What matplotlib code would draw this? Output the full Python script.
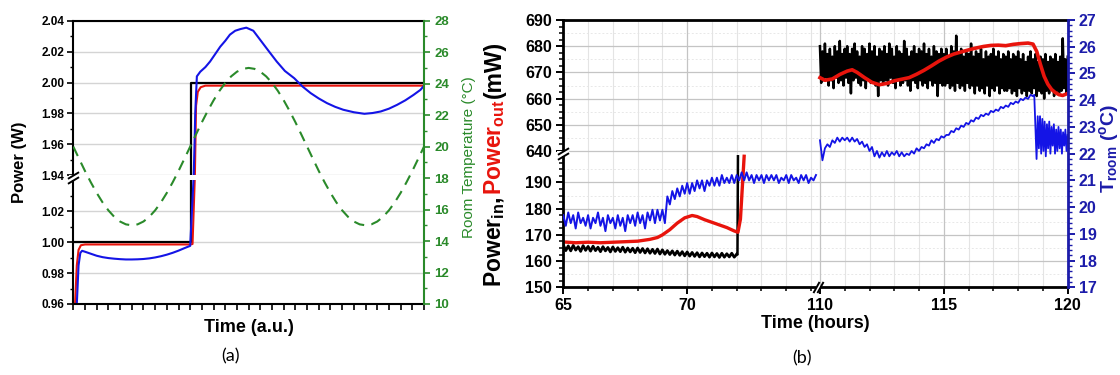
import numpy as np
import matplotlib
matplotlib.use('Agg')
import matplotlib.pyplot as plt
from matplotlib.patches import Rectangle
from matplotlib.lines import Line2D

plt.rcParams['font.family'] = ['Liberation Sans', 'DejaVu Sans']
plt.rcParams['mathtext.fontset'] = 'custom'
plt.rcParams['mathtext.rm'] = 'Liberation Sans'
plt.rcParams['mathtext.bf'] = 'Liberation Sans:bold'
plt.rcParams['mathtext.it'] = 'Liberation Sans:italic'

# ---------------- panel (a) data ----------------
step_t = [0, 10.03, 10.03, 30]
step_p = [1.00, 1.00, 2.00, 2.00]

out_t = [0.15, 0.3, 0.45, 0.65, 1.0, 10.0, 10.2, 10.4, 10.5, 10.65, 10.9, 11.3, 30]
out_p = [0.96, 0.985, 0.995, 0.998, 0.9985, 0.9985, 0.9988, 1.94, 1.985, 1.994, 1.997, 1.998, 1.998]

sim_t = [0.3, 0.45, 0.6, 0.75, 1.0, 1.5, 2, 2.5, 3, 3.5, 4, 4.5, 5, 5.5, 6, 6.5, 7, 7.5, 8, 8.5, 9, 9.5, 10.0,
         10.3, 10.37, 10.43, 10.57, 10.86, 11.3, 11.7, 12.1, 12.57, 13.0, 13.4, 13.85, 14.3, 14.8, 15.4, 16.0,
         16.7, 17.4, 18.1, 18.9, 19.6, 20.3, 21.0, 21.7, 22.4, 23.1, 24.0, 24.9, 25.6, 26.3, 27.0, 27.7, 28.4,
         29.1, 29.7, 30.0]
sim_p = [0.96, 0.985, 0.993, 0.9944, 0.9938, 0.9925, 0.9912, 0.9903, 0.9897, 0.9893, 0.9890, 0.9888, 0.9888,
         0.9889, 0.9891, 0.9895, 0.9901, 0.9909, 0.9919, 0.9931, 0.9945, 0.9961, 0.9976,
         1.94, 1.96, 1.98, 2.004, 2.007, 2.010, 2.0136, 2.018, 2.0232, 2.027, 2.031, 2.0335, 2.0346, 2.0355,
         2.0335, 2.0275, 2.0205, 2.0136, 2.0075, 2.0028, 1.9975, 1.9932, 1.9897, 1.9867, 1.9843, 1.9824,
         1.9808, 1.9798, 1.9803, 1.9813, 1.9831, 1.9856, 1.9885, 1.992, 1.9953, 1.998]

# room temperature, every half time unit from 0 to 30
room_temp = [20.00, 19.22, 18.45, 17.73, 17.06, 16.46, 15.95, 15.54, 15.24, 15.06, 15.00, 15.06, 15.24, 15.54,
             15.95, 16.46, 17.06, 17.73, 18.45, 19.22, 20.00, 20.78, 21.55, 22.27, 22.94, 23.54, 24.05, 24.46,
             24.76, 24.94, 25.00, 24.94, 24.76, 24.46, 24.05, 23.54, 22.94, 22.27, 21.55, 20.78, 20.00, 19.22,
             18.45, 17.73, 17.06, 16.46, 15.95, 15.54, 15.24, 15.06, 15.00, 15.06, 15.24, 15.54, 15.95, 16.46,
             17.06, 17.73, 18.45, 19.22, 20.00]

a_yticks = [0.96, 0.98, 1.00, 1.02, 1.94, 1.96, 1.98, 2.00, 2.02, 2.04]
a_yminor = [0.97, 0.99, 1.01, 1.03, 1.95, 1.97, 1.99, 2.01, 2.03]
a_rticks = [10, 12, 14, 16, 18, 20, 22, 24, 26, 28]

# ---------------- panel (b) data ----------------
# Power_in 65 -> 72 h (every 0.1 h)
pin_b1 = [166.2, 164.0, 165.8, 163.9, 166.0, 164.2, 165.5, 163.7, 165.9, 164.1, 165.6, 163.8, 165.7, 164.0,
          165.3, 163.6, 165.5, 163.9, 165.2, 163.5, 165.4, 163.7, 165.1, 163.6, 165.3, 163.4, 165.0, 163.5,
          164.9, 163.2, 165.0, 163.3, 164.8, 163.1, 164.7, 163.0, 164.5, 162.9, 164.6, 162.7, 164.3, 162.6,
          164.0, 162.5, 163.9, 162.3, 163.8, 162.2, 163.6, 162.0, 163.5, 161.9, 163.3, 161.8, 163.2, 161.6,
          163.1, 161.7, 163.0, 161.5, 163.1, 161.6, 162.9, 161.4, 163.0, 161.5, 162.8, 161.6, 163.0, 161.5,
          162.6]
pin_jump_t = [72.0, 72.03, 72.05]
pin_jump_p = [162.6, 162.5, 200.0]

# Power_in 110 -> 120 h
pin_b2 = [680, 666, 678, 667, 681, 668, 677, 665, 679, 667, 676, 664, 680, 668, 678, 666, 682, 667, 677, 665,
          679, 668, 680, 666, 677, 662, 679, 667, 681, 668, 678, 666, 676, 665, 680, 667, 679, 664, 677, 668,
          681, 666, 678, 667, 680, 665, 676, 661, 679, 667,
          678, 666, 680, 667, 677, 665, 681, 668, 679, 666, 676, 664, 680, 667, 678, 665, 677, 666, 682, 667,
          679, 665, 676, 663, 678, 667, 680, 666, 677, 664, 679, 667, 678, 665, 681, 666, 677, 664, 679, 667,
          676, 665, 680, 666, 678, 661, 677, 666, 679, 665,
          677, 665, 679, 666, 676, 664, 680, 665, 678, 663, 684, 666, 677, 664, 679, 665, 676, 663, 678, 666,
          677, 664, 681, 665, 676, 662, 678, 665, 677, 663, 679, 664, 675, 662, 678, 665, 676, 661, 677, 664,
          679, 663, 676, 665, 678, 662, 675, 664, 677, 663,
          676, 663, 678, 664, 675, 662, 677, 663, 676, 661, 678, 664, 675, 662, 677, 663, 674, 661, 676, 663,
          678, 662, 675, 664, 677, 661, 674, 663, 676, 662, 675, 660, 677, 663, 674, 662, 676, 664, 675, 661,
          677, 663, 674, 662, 676, 663, 683, 664, 675, 662, 676]

# Power_out
pout_t1 = [65.0, 65.5, 66.0, 66.5, 67.0, 67.5, 68.0, 68.5, 68.8, 69.0, 69.3, 69.6, 69.9, 70.2, 70.4, 70.7,
           71.0, 71.3, 71.6, 71.9, 72.05, 72.15, 72.3]
pout_p1 = [167.3, 167.0, 167.2, 167.0, 167.2, 167.4, 167.6, 168.3, 169.0, 170.0, 172.0, 174.5, 176.5, 177.4,
           177.0, 175.8, 174.8, 173.8, 172.8, 171.5, 171.0, 176.0, 200.0]
pout_t2 = [110.0, 110.2, 110.5, 110.8, 111.1, 111.3, 111.5, 111.8, 112.1, 112.4, 112.7, 113.0, 113.3, 113.6,
           113.9, 114.2, 114.5, 114.8, 115.1, 115.4, 115.7, 116.0, 116.3, 116.6, 116.9, 117.2, 117.5, 117.8,
           118.1, 118.4, 118.6, 118.75, 118.9, 119.05, 119.2, 119.35, 119.5, 119.65, 119.8, 120.0]
pout_p2 = [668.0, 667.0, 667.5, 669.2, 670.5, 671.0, 670.0, 668.0, 666.2, 665.3, 665.8, 666.8, 667.4, 668.0,
           669.3, 670.8, 672.5, 674.3, 675.8, 677.0, 677.8, 678.6, 679.3, 679.9, 680.3, 680.4, 680.2, 680.7,
           681.0, 681.2, 680.8, 678.0, 673.0, 668.5, 665.5, 663.5, 662.3, 661.5, 661.2, 662.0]

# T_room 65 -> 75.2 h (every 0.1 h)
troom_b1 = [19.7, 19.3, 19.8, 19.4, 19.7, 19.2, 19.8, 19.4, 19.6, 19.3, 19.7, 19.2, 19.6, 19.4, 19.8, 19.3,
            19.6, 19.1, 19.7, 19.4, 19.6, 19.2, 19.7, 19.3, 19.6, 19.1, 19.7, 19.4, 19.7, 19.3, 19.8, 19.4,
            19.7, 19.2, 19.8, 19.5, 19.9, 19.4, 19.9, 19.5, 19.9, 19.4, 20.4, 20.1, 20.6, 20.3, 20.7, 20.4,
            20.8, 20.5, 20.9, 20.5, 20.9, 20.6, 21.0, 20.7, 21.0, 20.6, 21.0, 20.8, 21.1, 20.8, 21.1, 20.8,
            21.2, 20.9, 21.1, 20.9, 21.2, 20.9, 21.2, 21.0, 21.3, 21.0, 21.3, 21.0, 21.2, 20.9, 21.2, 21.0,
            21.2, 20.9, 21.2, 21.0, 21.2, 21.0, 21.2, 20.9, 21.1, 21.0, 21.2, 20.9, 21.2, 21.0, 21.1, 20.9,
            21.2, 21.0, 21.2, 20.9, 21.1, 21.0, 21.2]
# T_room 110 -> 118.6 h (every 0.1 h)
troom_b2 = [22.5, 21.75, 22.2, 22.35, 22.25, 22.5, 22.4, 22.6, 22.45, 22.6, 22.5, 22.6, 22.45, 22.6, 22.45,
            22.55, 22.35, 22.45, 22.25, 22.35, 22.1, 22.25, 21.9, 22.1, 21.85, 22.05, 21.9, 22.1, 21.9, 22.05,
            21.95, 22.1, 21.9, 22.05, 21.9, 22.0, 21.95, 22.1, 22.0, 22.2, 22.1, 22.25, 22.2, 22.35, 22.3,
            22.5, 22.4, 22.55, 22.5, 22.65, 22.6, 22.7, 22.7, 22.85, 22.8, 22.95, 22.9, 23.05, 23.0, 23.15,
            23.1, 23.25, 23.2, 23.35, 23.3, 23.45, 23.4, 23.5, 23.45, 23.6, 23.55, 23.65, 23.6, 23.75, 23.7,
            23.8, 23.75, 23.9, 23.85, 23.95, 23.9, 24.05, 24.0, 24.1, 24.05, 24.2, 24.15]
# T_room 118.65 -> 120 h, oscillating part
troom_b3 = [24.2, 23.0, 21.8, 23.4, 22.2, 23.4, 22.0, 23.3, 22.1, 23.2, 21.9, 23.1, 22.2, 23.2, 22.0, 23.0,
            22.3, 23.1, 22.0, 22.9, 22.1, 23.0, 22.2, 22.9, 22.0, 22.8, 22.3, 22.9, 22.1, 22.7]

b_xticks = [65, 70, 110, 115, 120]
b_xminor = [66, 67, 68, 69, 71, 72, 73, 74, 75, 111, 112, 113, 114, 116, 117, 118, 119]
b_yticks = [150, 160, 170, 180, 190, 640, 650, 660, 670, 680, 690]
b_rticks = [17, 18, 19, 20, 21, 22, 23, 24, 25, 26, 27]

GREEN = '#2a8a2a'
BLUE = '#1414e6'
NAVY = '#1c1caa'
RED = '#e8140c'

# broken y scale for (a): 0.96-1.04 then 1.94-2.04
GAP_A = 0.0032
def fwd_a(v):
    v = np.asarray(v, float)
    return np.where(v <= 1.04, v, np.where(v >= 1.94, v - 0.9 + GAP_A, 1.04 + (v - 1.04) / 0.9 * GAP_A))
def inv_a(u):
    u = np.asarray(u, float)
    return np.where(u <= 1.04, u, np.where(u >= 1.04 + GAP_A, u + 0.9 - GAP_A, 1.04 + (u - 1.04) / GAP_A * 0.9))

# broken scales for (b): y 150-200 then 640-690, x 65-75.2 then 110-120
GAP_Y = 2.0
def fwd_by(v):
    v = np.asarray(v, float)
    return np.where(v <= 200, v, np.where(v >= 640, v - 440 + GAP_Y, 200 + (v - 200) / 440 * GAP_Y))
def inv_by(u):
    u = np.asarray(u, float)
    return np.where(u <= 200, u, np.where(u >= 200 + GAP_Y, u + 440 - GAP_Y, 200 + (u - 200) / GAP_Y * 440))

GAP_X = 0.16
def fwd_bx(t):
    t = np.asarray(t, float)
    return np.where(t <= 75.2, t, np.where(t >= 110, t - 34.8 + GAP_X, 75.2 + (t - 75.2) / 34.8 * GAP_X))
def inv_bx(u):
    u = np.asarray(u, float)
    return np.where(u <= 75.2, u, np.where(u >= 75.2 + GAP_X, u + 34.8 - GAP_X, 75.2 + (u - 75.2) / GAP_X * 34.8))

W, H = 1120, 375
fig = plt.figure(figsize=(W / 100, H / 100), dpi=100)

def box(l, t, r, b):
    return [l / W, 1 - b / H, (r - l) / W, (b - t) / H]

def brk(ax, x, y, horiz):
    # white cut in the spine plus the two slashes
    if horiz:
        fig.add_artist(Rectangle((x[0], -0.015), x[1] - x[0], 0.03, transform=ax.transAxes,
                                 facecolor='white', edgecolor='none', zorder=20))
        pts = [(x[0], 0), (x[1], 0)]
        mk = [(-0.55, -1), (0.55, 1)]
    else:
        fig.add_artist(Rectangle((-0.012, y[0]), 0.024, y[1] - y[0], transform=ax.transAxes,
                                 facecolor='white', edgecolor='none', zorder=20))
        pts = [(0, y[0]), (0, y[1])]
        mk = [(-1, -0.6), (1, 0.6)]
    for px, py in pts:
        fig.add_artist(Line2D([px], [py], transform=ax.transAxes, marker=mk, markersize=8,
                              markeredgewidth=1.4, color='k', linestyle='none', zorder=21))

# ======================= panel (a) =======================
axa = fig.add_axes(box(73.3, 20.7, 424, 304))
axa.set_yscale('function', functions=(fwd_a, inv_a))
axa.set_xlim(0, 30)
axa.set_ylim(0.96, 2.04)
axa.set_axisbelow(True)
axa.yaxis.grid(True, which='major', color='#d4d4d4', lw=1.0)

axa.plot(step_t, step_p, color='k', lw=1.6, zorder=2)
axa.plot(out_t, out_p, color=RED, lw=1.5, zorder=2)
axa.plot(sim_t, sim_p, color=BLUE, lw=1.5, zorder=2)
axa.axhspan(1.0405, 1.9395, color='white', zorder=3, lw=0)

axa.set_xticks(np.arange(0, 31, 1))
axa.set_xticklabels([])
axa.set_yticks(a_yticks)
axa.set_yticks(a_yminor, minor=True)
axa.set_yticklabels(['%.2f' % v for v in a_yticks], fontsize=8.5, fontweight='bold')
axa.tick_params(axis='y', which='major', direction='out', length=4.5, width=1.2, pad=2)
axa.tick_params(axis='y', which='minor', direction='out', length=2.5, width=1.0)
axa.tick_params(axis='x', which='major', direction='out', length=4, width=1.2)
for s in ['left', 'bottom', 'top']:
    axa.spines[s].set_linewidth(1.5)
axa.spines['right'].set_visible(False)

axa2 = axa.twinx()
axa2.plot(np.linspace(0, 30, len(room_temp)), room_temp, color=GREEN, lw=1.5, ls=(0, (5, 3.5)))
axa2.set_ylim(10, 28)
axa2.set_yticks(a_rticks)
axa2.set_yticks([11, 13, 15, 17, 19, 21, 23, 25, 27], minor=True)
axa2.set_yticklabels([str(v) for v in a_rticks], fontsize=9.5, fontweight='bold')
axa2.tick_params(axis='y', which='major', direction='out', length=4.5, width=1.2, colors=GREEN, pad=3)
axa2.tick_params(axis='y', which='minor', direction='out', length=2.5, width=1.0, colors=GREEN)
for s in ['left', 'bottom', 'top']:
    axa2.spines[s].set_visible(False)
axa2.spines['right'].set_color(GREEN)
axa2.spines['right'].set_linewidth(1.5)

ya0 = 0.08 / (0.18 + GAP_A)
brk(axa, None, (ya0, ya0 + GAP_A / (0.18 + GAP_A)), False)

fig.text(20 / W, 1 - 162 / H, 'Power (W)', rotation=90, ha='center', va='center', fontsize=12, fontweight='bold')
fig.text(469 / W, 1 - 157 / H, 'Room Temperature (°C)', rotation=90, ha='center', va='center',
         fontsize=11, color=GREEN)
fig.text(249 / W, 1 - 327 / H, 'Time (a.u.)', ha='center', va='center', fontsize=13, fontweight='bold')

# ======================= panel (b) =======================
axb = fig.add_axes(box(563.3, 20, 1067.7, 287.3))
axb.set_xscale('function', functions=(fwd_bx, inv_bx))
axb.set_yscale('function', functions=(fwd_by, inv_by))
axb.set_xlim(65, 120)
axb.set_ylim(150, 690)
axb.set_axisbelow(True)

axb.set_xticks(b_xticks)
axb.set_xticks(b_xminor, minor=True)
axb.set_xticklabels([str(v) for v in b_xticks], fontsize=11.5, fontweight='bold')
axb.set_yticks(b_yticks)
axb.set_yticks([v for v in list(np.arange(150, 200, 2.5)) + list(np.arange(640, 690, 2.5)) if v % 10 != 0],
               minor=True)
axb.set_yticklabels([str(v) for v in b_yticks], fontsize=11.5, fontweight='bold')
axb.grid(True, which='major', color='#c4c4c4', lw=0.9)
axb.grid(True, which='minor', axis='x', color='#e4e4e4', lw=0.8)
for v in [155, 165, 175, 185, 195, 645, 655, 665, 675, 685]:
    axb.axhline(v, color='#e8e8e8', lw=0.7, ls=(0, (2, 2)), zorder=0)
axb.tick_params(axis='both', which='major', direction='out', length=5, width=1.4, pad=3)
axb.tick_params(axis='both', which='minor', direction='out', length=3, width=1.1)
for s in ['left', 'bottom', 'top']:
    axb.spines[s].set_linewidth(2)
axb.spines['right'].set_visible(False)

axb.plot(np.linspace(65, 72.0, len(pin_b1)), pin_b1, color='k', lw=2.0)
axb.plot(pin_jump_t, pin_jump_p, color='k', lw=1.8)
axb.plot(np.linspace(110, 120, len(pin_b2)), pin_b2, color='k', lw=1.8)
axb.plot(pout_t1, pout_p1, color=RED, lw=2.4)
axb.plot(pout_t2, pout_p2, color=RED, lw=2.6)

axb2 = axb.twinx()
axb2.plot(np.linspace(65, 75.2, len(troom_b1)), troom_b1, color=BLUE, lw=1.4)
t_right = np.concatenate([np.linspace(110, 118.6, len(troom_b2)), np.linspace(118.65, 120, len(troom_b3))])
axb2.plot(t_right, troom_b2 + troom_b3, color=BLUE, lw=1.3)
axb2.set_ylim(17, 27)
axb2.set_yticks(b_rticks)
axb2.set_yticks(np.arange(17, 27, 0.2), minor=True)
axb2.set_yticklabels([str(v) for v in b_rticks], fontsize=11.5, fontweight='bold')
axb2.tick_params(axis='y', which='major', direction='out', length=5, width=1.4, colors=NAVY, pad=3)
axb2.tick_params(axis='y', which='minor', direction='out', length=3, width=1.0, colors=NAVY)
for s in ['left', 'bottom', 'top']:
    axb2.spines[s].set_visible(False)
axb2.spines['right'].set_color(NAVY)
axb2.spines['right'].set_linewidth(2)

yb0 = 50 / (100 + GAP_Y)
brk(axb, None, (yb0, yb0 + GAP_Y / (100 + GAP_Y)), False)
xb0 = 10.2 / (20.2 + GAP_X)
brk(axb, (xb0, xb0 + GAP_X / (20.2 + GAP_X)), None, True)

fig.text(815 / W, 1 - 323 / H, 'Time (hours)', ha='center', va='center', fontsize=13, fontweight='bold')

# multi-colour rotated y label, pieces stacked along the baseline
rend = fig.canvas.get_renderer()
y = 1 - 287 / H
for s, c in [(r'Power$_{\mathbf{in}}$, ', 'k'), (r'Power$_{\mathbf{out}}$ ', RED), ('(mW)', 'k')]:
    t = fig.text(501 / W, y, s, rotation=90, rotation_mode='anchor', ha='left', va='baseline',
                 fontsize=16.5, fontweight='bold', color=c)
    y = t.get_window_extent(rend).y1 / H

fig.text(1114 / W, 1 - 193 / H, r'T$_{\mathbf{room}}$ ($^{\mathbf{o}}$C)', rotation=90, rotation_mode='anchor',
         ha='left', va='baseline', fontsize=14, fontweight='bold', color=NAVY)

fig.text(231 / W, 1 - 356 / H, '(a)', ha='center', va='center', fontsize=13, family='Lato')
fig.text(802 / W, 1 - 358 / H, '(b)', ha='center', va='center', fontsize=13, family='Lato')

fig.savefig('out.png', dpi=100)
